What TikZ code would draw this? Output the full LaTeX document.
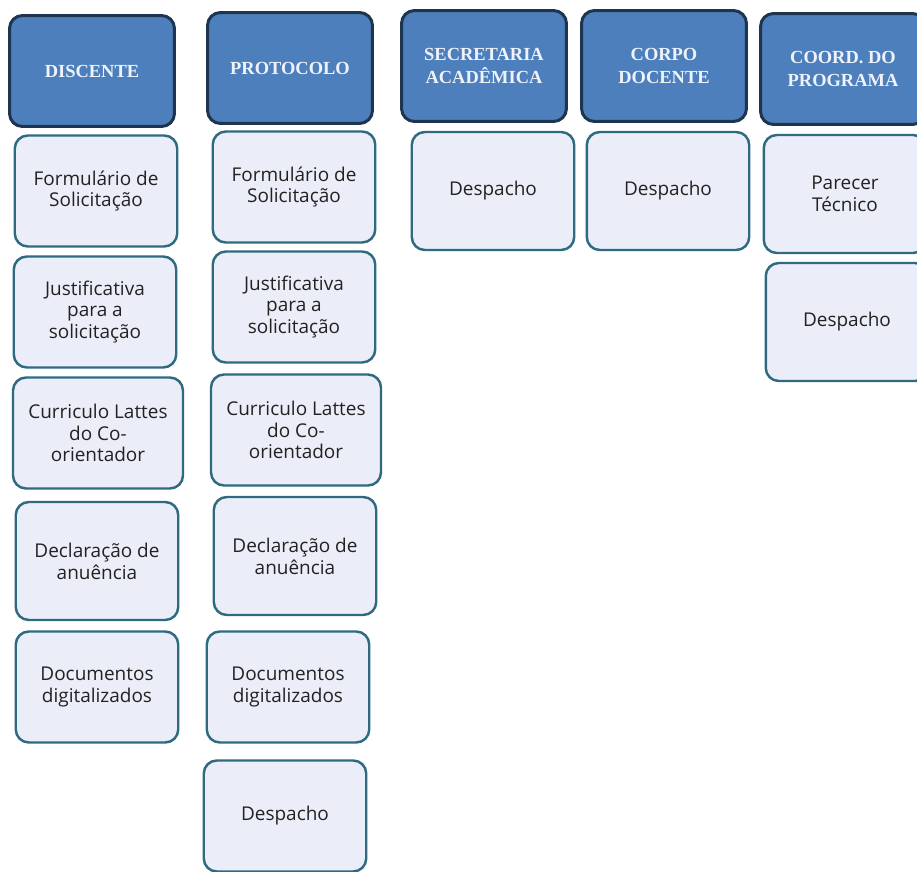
\documentclass[tikz,border=0pt]{standalone}
\usepackage{fontspec}
\setmainfont{Open Sans}
\newfontfamily\headfont{Liberation Serif}
\definecolor{headblue}{HTML}{4D7FBC}
\definecolor{headline}{HTML}{1E3550}
\definecolor{headtext}{HTML}{EEF2FA}
\definecolor{itemfill}{HTML}{EBEEF9}
\definecolor{itemline}{HTML}{2F6A80}
\definecolor{itemtext}{HTML}{222222}
\tikzset{
  head/.style={draw=headline,fill=headblue,line width=1.7pt,rounded corners=0.26cm,
    minimum width=3.3cm,minimum height=2.22cm,align=center,text=headtext,
    font=\headfont\bfseries\fontsize{10.5}{12.8}\selectfont},
  item/.style={draw=itemline,fill=itemfill,line width=1.4pt,rounded corners=0.26cm,
    minimum width=3.25cm,minimum height=2.22cm,align=center,text=itemtext,
    font=\fontsize{10.8}{12.4}\selectfont},
  tall/.style={minimum height=2.36cm}
}
\begin{document}
\begin{tikzpicture}[x=0.02cm,y=-0.02cm]
		  \useasboundingbox (0,0) rectangle (917,872);
		  \clip (0,0) rectangle (917,872);
		  \fill[white] (0,0) rectangle (917,872);
		  % cabecalhos
		  \node[head] (discente) at (92,71) {DISCENTE};
		  \node[head] (protocolo) at (290,68) {PROTOCOLO};
		  \node[head] (secretaria) at (484,66) {SECRETARIA\\ACADÊMICA};
		  \node[head] (corpo) at (664,66) {CORPO\\DOCENTE};
		  \node[head] (coord) at (843,69) {COORD. DO\\PROGRAMA};
		  % discente
		  \node[item] (dform) at (96,191) {Formulário de\\Solicitação};
		  \node[item] (djust) at (95,312) {Justificativa\\para a\\solicitação};
		  \node[item,minimum width=3.4cm] (dcurr) at (98,433) {Curriculo Lattes\\do Co-\\orientador};
		  \node[item,tall] (ddecl) at (97,561) {Declaração de\\anuência};
		  \node[item] (ddoc) at (97,687) {Documentos\\digitalizados};
		  % protocolo
		  \node[item] (pform) at (294,187) {Formulário de\\Solicitação};
		  \node[item] (pjust) at (294,307) {Justificativa\\para a\\solicitação};
		  \node[item,minimum width=3.4cm] (pcurr) at (296,430) {Curriculo Lattes\\do Co-\\orientador};
		  \node[item,tall] (pdecl) at (295,556) {Declaração de\\anuência};
		  \node[item] (pdoc) at (288,687) {Documentos\\digitalizados};
		  \node[item] (pdesp) at (285,816) {Despacho};
		  % secretaria, corpo docente, coordenacao
		  \node[item,tall] (sdesp) at (493,191) {Despacho};
		  \node[item,tall] (cdesp) at (668,191) {Despacho};
		  \node[item,tall] (parecer) at (845,194) {Parecer\\Técnico};
		  \node[item,tall] (kdesp) at (847,322) {Despacho};
		\end{tikzpicture}
\end{document}
